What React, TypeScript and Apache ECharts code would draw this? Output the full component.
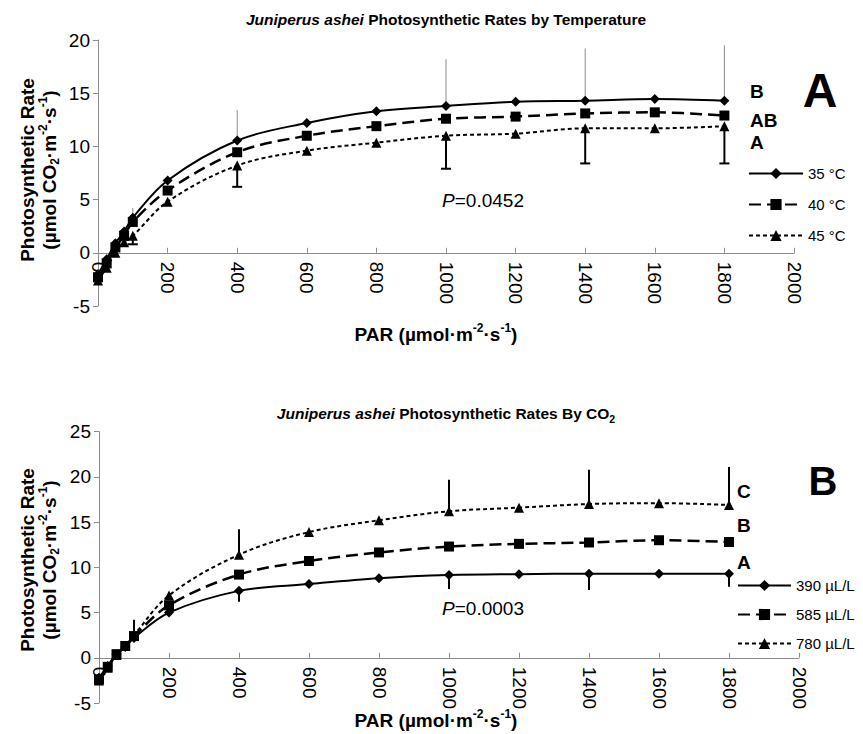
import React, { useEffect, useRef } from "react";
import * as echarts from "echarts";

// ---------- data ----------
const PAR = [0, 25, 50, 75, 100, 200, 400, 600, 800, 1000, 1200, 1400, 1600, 1800];

const temp35 = [-2.0, -0.6, 0.9, 2.0, 3.3, 6.8, 10.55, 12.2, 13.3, 13.8, 14.2, 14.3, 14.45, 14.3];
const temp40 = [-2.3, -1.0, 0.5, 1.6, 2.9, 5.85, 9.45, 11.0, 11.9, 12.6, 12.8, 13.1, 13.2, 12.9];
const temp45 = [-2.6, -1.4, 0.0, 1.0, 1.6, 4.8, 8.2, 9.6, 10.35, 11.0, 11.2, 11.7, 11.7, 11.9];

const co2_390 = [-2.2, -0.9, 0.4, 1.2, 2.2, 5.0, 7.4, 8.15, 8.8, 9.15, 9.25, 9.3, 9.3, 9.3];
const co2_585 = [-2.4, -1.0, 0.4, 1.3, 2.4, 5.8, 9.2, 10.7, 11.65, 12.3, 12.6, 12.75, 13.0, 12.8];
const co2_780 = [-2.5, -1.1, 0.3, 1.3, 2.5, 6.9, 11.4, 13.9, 15.2, 16.2, 16.6, 17.0, 17.1, 16.9];

// error bars (PAR where drawn, end value of bar)
const errPAR = [100, 400, 1000, 1400, 1800];
const temp35High = [4.2, 13.4, 18.2, 19.2, 19.5];
const temp45Low = [0.8, 6.2, 7.9, 8.4, 8.4];
const co2_780High = [4.2, 14.2, 19.7, 20.8, 21.1];
const err390PAR = [400, 1000, 1400, 1800];
const co2_390Low = [6.2, 7.6, 7.5, 7.85];

const xMin = 0, xMax = 2000, xStep = 200;
const topYMin = -5, topYMax = 20;
const botYMin = -5, botYMax = 25;
const yStep = 5;

const tempNames = ["35 °C", "40 °C", "45 °C"];
const co2Names = ["390 µL/L", "585 µL/L", "780 µL/L"];

const FONT = "'Liberation Sans', Arial, Helvetica, sans-serif";

// grid geometry
const TOP_GRID = { left: 98, top: 40, width: 696, height: 266 };
const BOT_GRID = { left: 99, top: 431.7, width: 700, height: 271.3 };

function pts(vals: number[]) {
  return PAR.map((x, i) => [x, vals[i]]);
}

function errData(xs: number[], base: number[], ends: number[]) {
  return xs.map((x, i) => [x, base[PAR.indexOf(x)], ends[i]]);
}

function errSeries(idx: number, data: number[][], color: string, width: number, cap: number) {
  return {
    type: "custom",
    xAxisIndex: idx,
    yAxisIndex: idx,
    z: 1,
    silent: true,
    encode: { x: 0, y: [1, 2] },
    data,
    renderItem: (params: any, api: any) => {
      const x = api.value(0);
      const v = api.value(1);
      const e = api.value(2);
      const p0 = api.coord([x, v]);
      const p1 = api.coord([x, e]);
      const children: any[] = [
        {
          type: "line",
          shape: { x1: p0[0], y1: p0[1], x2: p1[0], y2: p1[1] },
          style: { stroke: color, lineWidth: width },
        },
      ];
      if (cap > 0) {
        children.push({
          type: "line",
          shape: { x1: p1[0] - cap, y1: p1[1], x2: p1[0] + cap, y2: p1[1] },
          style: { stroke: color, lineWidth: width },
        });
      }
      return { type: "group", children };
    },
  };
}

function lineSeries(name: string, idx: number, vals: number[], symbol: string, size: number, type: any, width: number) {
  return {
    name,
    type: "line",
    xAxisIndex: idx,
    yAxisIndex: idx,
    data: pts(vals),
    smooth: 0.35,
    symbol,
    symbolSize: size,
    z: 3,
    lineStyle: { color: "#000", width, type },
    itemStyle: { color: "#000" },
  };
}

// x axis sits at y = 0 of its grid: shift it up from the grid bottom
function xAxis(idx: number, yMin: number, yMax: number, height: number) {
  const shift = (height * (0 - yMin)) / (yMax - yMin);
  return {
    type: "value",
    gridIndex: idx,
    position: "bottom",
    offset: -shift,
    min: xMin,
    max: xMax,
    interval: xStep,
    axisLine: { show: true, onZero: false, lineStyle: { color: "#8c8c8c", width: 1 } },
    axisTick: { show: true, inside: true, length: 5, lineStyle: { color: "#8c8c8c" } },
    axisLabel: {
      rotate: -90,
      fontSize: 19,
      color: "#000",
      fontFamily: FONT,
      margin: 9,
      formatter: (v: number) => String(v),
    },
    splitLine: { show: false },
  };
}

function yAxis(idx: number, min: number, max: number) {
  return {
    type: "value",
    gridIndex: idx,
    min,
    max,
    interval: yStep,
    axisLine: { show: true, onZero: false, lineStyle: { color: "#8c8c8c", width: 1 } },
    axisTick: { show: true, inside: false, length: 5, lineStyle: { color: "#8c8c8c" } },
    axisLabel: { fontSize: 19, color: "#000", fontFamily: FONT, margin: 8 },
    splitLine: { show: false },
  };
}

const richBase = {
  b: { fontSize: 19, fontWeight: "bold", fontFamily: FONT, lineHeight: 24, color: "#000" },
  sup: { fontSize: 12, fontWeight: "bold", fontFamily: FONT, verticalAlign: "top", lineHeight: 24, color: "#000" },
  sub: { fontSize: 12, fontWeight: "bold", fontFamily: FONT, verticalAlign: "bottom", lineHeight: 24, color: "#000" },
  i: { fontSize: 19, fontStyle: "italic", fontFamily: FONT, lineHeight: 24, color: "#000" },
};

function txt(x: number, y: number, text: string, opts: any = {}, rotation = 0) {
  return {
    type: "text",
    x,
    y,
    rotation,
    silent: true,
    style: {
      text,
      fontFamily: FONT,
      fontSize: opts.fontSize ?? 19,
      fontWeight: opts.fontWeight ?? "normal",
      fontStyle: opts.fontStyle ?? "normal",
      fill: "#000",
      align: opts.align ?? "center",
      textAlign: opts.align ?? "center",
      verticalAlign: "middle",
      textVerticalAlign: "middle",
      rich: opts.rich,
    },
  };
}

const titleRich = {
  i: { fontSize: 15.5, fontStyle: "italic", fontWeight: "bold", fontFamily: FONT, lineHeight: 22 },
  n: { fontSize: 15.5, fontWeight: "bold", fontFamily: FONT, lineHeight: 22 },
  sub: { fontSize: 10.5, fontWeight: "bold", fontFamily: FONT, verticalAlign: "bottom", lineHeight: 22 },
};

const yNameLine2 = "{b|(µmol CO}{sub|2}{b|·m}{sup|-2}{b|·s}{sup|-1}{b|)}";
const xName = "{b|PAR (µmol·m}{sup|-2}{b|·s}{sup|-1}{b|)}";

export default function App() {
  const ref = useRef<HTMLDivElement>(null);

  useEffect(() => {
    document.body.style.margin = "0";
    if (!ref.current) return;
    const chart = echarts.init(ref.current, undefined, { renderer: "svg" });

    const option: any = {
      animation: false,
      backgroundColor: "#fff",
      textStyle: { fontFamily: FONT },
      grid: [TOP_GRID, BOT_GRID],
      xAxis: [
        xAxis(0, topYMin, topYMax, TOP_GRID.height),
        xAxis(1, botYMin, botYMax, BOT_GRID.height),
      ],
      yAxis: [yAxis(0, topYMin, topYMax), yAxis(1, botYMin, botYMax)],
      legend: [
        {
          data: tempNames,
          orient: "vertical",
          left: 748,
          top: 166,
          padding: 0,
          itemWidth: 54,
          itemHeight: 14,
          itemGap: 16,
          selectedMode: false,
          textStyle: { fontSize: 15, color: "#000", fontFamily: FONT },
        },
        {
          data: co2Names,
          orient: "vertical",
          left: 737,
          top: 578,
          padding: 0,
          itemWidth: 53,
          itemHeight: 14,
          itemGap: 14,
          selectedMode: false,
          textStyle: { fontSize: 15, color: "#000", fontFamily: FONT },
        },
      ],
      series: [
        lineSeries(tempNames[0], 0, temp35, "diamond", 10, "solid", 2),
        lineSeries(tempNames[1], 0, temp40, "rect", 10, [12, 6], 2.5),
        lineSeries(tempNames[2], 0, temp45, "triangle", 10, [4, 3], 2),
        errSeries(0, errData(errPAR, temp35, temp35High), "#8c8c8c", 1, 0),
        errSeries(0, errData(errPAR, temp45, temp45Low), "#000", 2, 5),
        lineSeries(co2Names[0], 1, co2_390, "diamond", 10, "solid", 2),
        lineSeries(co2Names[1], 1, co2_585, "rect", 10, [12, 6], 2.5),
        lineSeries(co2Names[2], 1, co2_780, "triangle", 10, [4, 3], 2),
        errSeries(1, errData(errPAR, co2_780, co2_780High), "#000", 2, 0),
        errSeries(1, errData(err390PAR, co2_390, co2_390Low), "#000", 2, 0),
      ],
      graphic: [
        txt(446, 19, "{i|Juniperus ashei}{n| Photosynthetic Rates by Temperature}", { rich: titleRich }),
        txt(446, 413, "{i|Juniperus ashei}{n| Photosynthetic Rates By CO}{sub|2}", { rich: titleRich }),
        txt(27, 170, "{b|Photosynthetic Rate}", { rich: richBase }, Math.PI / 2),
        txt(49, 170, yNameLine2, { rich: richBase }, Math.PI / 2),
        txt(27, 560, "{b|Photosynthetic Rate}", { rich: richBase }, Math.PI / 2),
        txt(49, 560, yNameLine2, { rich: richBase }, Math.PI / 2),
        txt(436, 334, xName, { rich: richBase }),
        txt(436, 720, xName, { rich: richBase }),
        txt(483, 200, "{i|P}=0.0452", { fontSize: 19, rich: richBase }),
        txt(483, 608, "{i|P}=0.0003", { fontSize: 19, rich: richBase }),
        txt(750, 91, "B", { fontSize: 19, fontWeight: "bold", align: "left" }),
        txt(750, 120, "AB", { fontSize: 19, fontWeight: "bold", align: "left" }),
        txt(750, 142, "A", { fontSize: 19, fontWeight: "bold", align: "left" }),
        txt(737, 491, "C", { fontSize: 19, fontWeight: "bold", align: "left" }),
        txt(737, 525, "B", { fontSize: 19, fontWeight: "bold", align: "left" }),
        txt(737, 562, "A", { fontSize: 19, fontWeight: "bold", align: "left" }),
        txt(820, 90, "A", { fontSize: 48, fontWeight: "bold" }),
        txt(823, 481, "B", { fontSize: 40, fontWeight: "bold" }),
      ],
    };

    chart.setOption(option);
    return () => chart.dispose();
  }, []);

  return <div ref={ref} style={{ width: 863, height: 734, background: "#fff" }} />;
}
